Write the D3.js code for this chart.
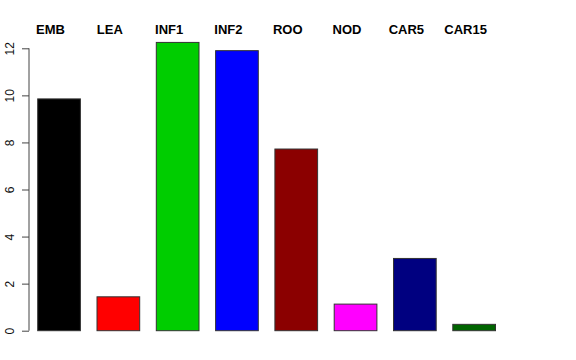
<!DOCTYPE html>
<html>
<head>
<meta charset="utf-8">
<script src="https://cdn.jsdelivr.net/npm/d3@7"></script>
<style>
html,body{margin:0;padding:0;background:#fff;}
svg{display:block;}
</style>
</head>
<body>
<svg id="chart" width="576" height="360"></svg>
<script>
const categories = ["EMB","LEA","INF1","INF2","ROO","NOD","CAR5","CAR15"];
const values = [9.85, 1.44, 12.25, 11.9, 7.72, 1.13, 3.07, 0.27];
const colors = ["#000000","#FF0000","#00CD00","#0000FF","#8B0000","#FF00FF","#000080","#006400"];
const yTicks = [0,2,4,6,8,10,12];

const svg = d3.select("#chart");
const font = "'Liberation Sans', Arial, Helvetica, sans-serif";

const x = d3.scaleBand().domain(categories).range([37.7, 495.5]).paddingInner(0.28).paddingOuter(0);
const y = d3.scaleLinear().domain([0,12]).range([330.7, 48.3]);

svg.append("g").selectAll("rect").data(categories).join("rect")
  .attr("x", d => x(d))
  .attr("width", x.bandwidth())
  .attr("y", (d,i) => y(values[i]))
  .attr("height", (d,i) => y(0) - y(values[i]))
  .attr("fill", (d,i) => colors[i])
  .attr("stroke", "#333")
  .attr("stroke-width", 1);

// y axis
const ax = svg.append("g").attr("transform", "translate(29,0)")
  .call(d3.axisLeft(y).tickValues(yTicks).tickSize(7).tickFormat(d3.format("d")));
ax.select(".domain").attr("stroke", "#444").attr("d", `M0,${y(0)}V${y(12)}`);
ax.selectAll(".tick line").attr("stroke", "#444");
ax.selectAll(".tick text")
  .attr("font-family", font).attr("font-size", 12).attr("fill", "#111")
  .attr("text-anchor", "middle")
  .attr("x", null).attr("dy", null)
  .attr("transform", "translate(-15.5,0) rotate(-90)");

// category labels on top
svg.append("g").selectAll("text").data(categories).join("text")
  .attr("x", d => x(d) + x.bandwidth()/2 - 8.5)
  .attr("y", 34)
  .attr("text-anchor", "middle")
  .attr("font-family", font)
  .attr("font-size", 13)
  .attr("font-weight", "bold")
  .attr("fill", "#000")
  .text(d => d);
</script>
</body>
</html>
